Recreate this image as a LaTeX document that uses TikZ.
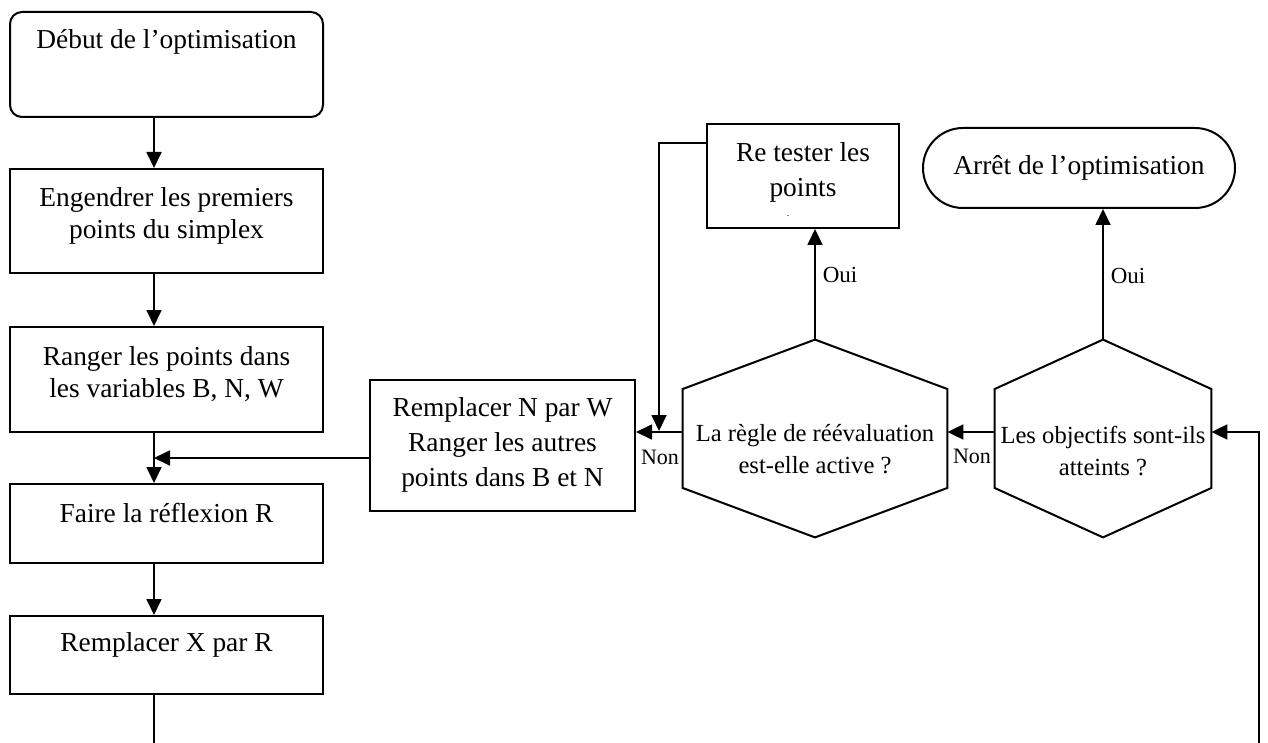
\documentclass[tikz,border=0pt]{standalone}
\usepackage{fontspec}
\setmainfont{Liberation Serif}
\usetikzlibrary{arrows.meta,calc}
\begin{document}
\begin{tikzpicture}[x=0.5pt,y=-0.5pt,
  shapebox/.style={draw,line width=1pt,inner sep=0pt},
  txt/.style={align=center,font=\fontsize{13.7}{16}\selectfont,inner sep=0pt},
  hextxt/.style={align=center,font=\fontsize{12.3}{16}\selectfont,inner sep=0pt},
  lbl/.style={font=\fontsize{11.5}{13}\selectfont,inner sep=0pt},
  conn/.style={line width=0.9pt},
  arr/.style={conn,-{Triangle[length=8pt,width=7.5pt]}},
  hexbox/.style={inner sep=0pt}]
\useasboundingbox (0,0) rectangle (1268,743);
\clip (0,0) rectangle (1268,743);
% column coordinates
\coordinate (cx) at (154,0);
\coordinate (row) at (0,432);
\coordinate (m) at (154,458);
\coordinate (rj) at (659,432);
\coordinate (rtl) at (0,143);
\coordinate (bl) at (154,770);
\coordinate (br) at (1259,770);
\coordinate (rr) at (1259,432);
% left column boxes
\node[shapebox,rounded corners=6pt,minimum width=156.5pt,minimum height=52.5pt] (b1) at (166.5,64.5) {};
\node[txt] (t1) at (166.5,42) {Début de l’optimisation};
\node[shapebox,minimum width=156.5pt,minimum height=52pt] (b2) at (166.5,221) {};
\node[txt] (t2) at (166.5,216) {Engendrer les premiers\\points du simplex};
\node[shapebox,minimum width=156.5pt,minimum height=52.5pt] (b3) at (166.5,379.5) {};
\node[txt] (t3) at (166.5,374) {Ranger les points dans\\les variables B, N, W};
\node[shapebox,minimum width=156.5pt,minimum height=39.5pt] (b4) at (166.5,523.5) {};
\node[txt] (t4) at (166.5,513) {Faire la réflexion R};
\node[shapebox,minimum width=156.5pt,minimum height=39pt] (b5) at (166.5,655) {};
\node[txt] (t5) at (166.5,645) {Remplacer X par R};
% middle box
\node[shapebox,minimum width=132.5pt,minimum height=65.5pt] (rn) at (502.5,445.5) {};
\node[txt,font=\fontsize{13.7}{17.5}\selectfont] (trn) at (502.5,445) {Remplacer N par W\\Ranger les autres\\points dans B et N};
% re tester
\node[shapebox,minimum width=96pt,minimum height=52pt] (rt) at (803,176) {};
\node[txt,font=\fontsize{13.7}{17.5}\selectfont] (trt) at (803,172) {Re tester les\\points};
\node[inner sep=0pt,font=\fontsize{5}{6}\selectfont] (dot) at (788,216) {.};
% stop
\node[shapebox,rounded corners=20pt,minimum width=156pt,minimum height=40pt] (stop) at (1079,168) {};
\node[txt] (tstop) at (1079,168) {Arrêt de l’optimisation};
% hexagons
\node[hexbox,minimum width=132pt,minimum height=98.5pt] (h1) at (815,438.5) {};
\draw[line width=1pt] (h1.north) -- ($(h1.north east)!0.25!(h1.south east)$) -- ($(h1.north east)!0.75!(h1.south east)$) -- (h1.south) -- ($(h1.north west)!0.75!(h1.south west)$) -- ($(h1.north west)!0.25!(h1.south west)$) -- cycle;
\node[hextxt] (th1) at (815,449) {La règle de réévaluation\\est-elle active ?};
\node[hexbox,minimum width=108pt,minimum height=98.5pt] (h2) at (1103,438.5) {};
\draw[line width=1pt] (h2.north) -- ($(h2.north east)!0.25!(h2.south east)$) -- ($(h2.north east)!0.75!(h2.south east)$) -- (h2.south) -- ($(h2.north west)!0.75!(h2.south west)$) -- ($(h2.north west)!0.25!(h2.south west)$) -- cycle;
\node[hextxt] (th2) at (1103,451) {Les objectifs sont-ils\\atteints ?};
% connectors
\draw[arr] (b1.south -| cx) -- (b2.north -| cx);
\draw[arr] (b2.south -| cx) -- (b3.north -| cx);
\draw[arr] (b3.south -| cx) -- (b4.north -| cx);
\draw[arr] (b4.south -| cx) -- (b5.north -| cx);
\draw[arr] (rn.west |- m) -- (m);
\draw[arr] (h1.west |- row) -- (rn.east |- row);
\draw[arr] (rt.west |- rtl) -- (rj |- rtl) -- ([yshift=0.5pt]rj);
\draw[arr] (h2.west |- row) -- (h1.east |- row);
\draw[arr] (h1.north) -- (h1.north |- rt.south);
\draw[arr] (h2.north) -- (h2.north |- stop.south);
\draw[arr] (b5.south -| cx) -- (bl) -- (br) -- (rr) -- (h2.east |- row);
% labels
\node[lbl,font=\fontsize{11}{13}\selectfont] (n1) at (660,457) {Non};
\node[lbl,font=\fontsize{11}{13}\selectfont] (n2) at (972,456) {Non};
\node[lbl] (o1) at (840,275) {Oui};
\node[lbl] (o2) at (1128,276) {Oui};
\end{tikzpicture}
\end{document}
